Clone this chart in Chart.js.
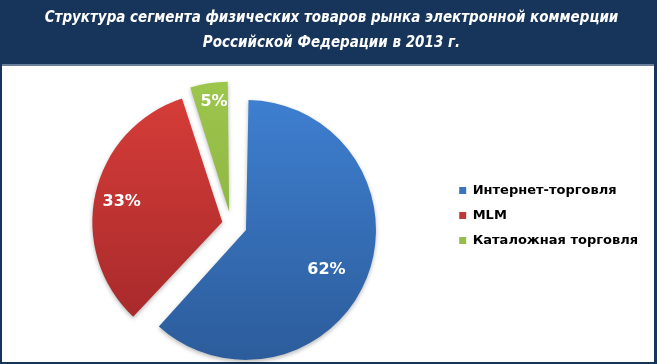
<!DOCTYPE html>
<html>
<head>
<meta charset="utf-8">
<script src="https://cdn.jsdelivr.net/npm/chart.js@4.4.0/dist/chart.umd.min.js"></script>
<style>
  html, body { margin: 0; padding: 0; background: #fff; }
  #wrap { position: relative; width: 657px; height: 364px; }
</style>
</head>
<body>
<div id="wrap"><canvas id="segments"></canvas></div>
<script>
const titleLines = ['Структура сегмента физических товаров рынка электронной коммерции', 'Российской Федерации в 2013 г.'];
const categories = ['Интернет-торговля', 'MLM', 'Каталожная торговля'];
const shares = [62, 33, 5];

const legendColors = ['#3b74bd', '#c0393a', '#94bd4b'];
const topColors = ['#3e7fd0', '#d63d38', '#9dc64d'];
const bottomColors = ['#2c5c9b', '#a2272a', '#82a93a'];
const sliceOffsets = [64, 36, 50];
const labelDistance = [0.69, 0.79, 0.85];
const labelTurn = [0.08, -0.02, 0.02];
const pieRadius = 130;

// pie center is middle of chart area, so gradient is placed from it
function sliceGradient(context) {
    const chart = context.chart;
    const area = chart.chartArea;
    const i = context.dataIndex;
    if (!area || i === undefined) return legendColors[i || 0];
    const cy = (area.top + area.bottom) / 2;
    const g = chart.ctx.createLinearGradient(0, cy - pieRadius, 0, cy + pieRadius);
    g.addColorStop(0, topColors[i]);
    g.addColorStop(1, bottomColors[i]);
    return g;
}

const frame = {
    id: 'frame',
    beforeDraw(chart) {
        const c = chart.ctx;
        c.save();
        c.fillStyle = '#17345a';
        c.fillRect(0, 0, chart.width, chart.height);
        c.fillStyle = '#6a7f9b';
        c.fillRect(2, 64, chart.width - 5, 2);
        c.fillStyle = '#ffffff';
        c.fillRect(2, 66, chart.width - 5, chart.height - 68);
        c.restore();
    }
};

// keep every exploded slice the same size (arc adds offset to radius)
const evenRadius = {
    id: 'evenRadius',
    afterDatasetUpdate(chart, args) {
        const meta = chart.getDatasetMeta(args.index);
        meta.data.forEach((arc, i) => {
            const off = sliceOffsets[i] / 4;
            const fix = 1 - Math.sin(Math.min(Math.PI, arc.circumference));
            arc.outerRadius = pieRadius - off * fix;
        });
    },
    beforeDatasetsDraw(chart) {
        const c = chart.ctx;
        c.save();
        c.shadowColor = 'rgba(0, 0, 0, 0.28)';
        c.shadowBlur = 4;
        c.shadowOffsetY = 2;
    },
    afterDatasetsDraw(chart) {
        chart.ctx.restore();
    }
};

const pctLabels = {
    id: 'pctLabels',
    afterDatasetsDraw(chart) {
        const c = chart.ctx;
        const meta = chart.getDatasetMeta(0);
        const total = shares.reduce((a, b) => a + b, 0);
        c.save();
        c.fillStyle = '#ffffff';
        c.font = 'bold 16px "DejaVu Sans", sans-serif';
        c.textAlign = 'center';
        c.textBaseline = 'middle';
        meta.data.forEach((arc, i) => {
            const mid = (arc.startAngle + arc.endAngle) / 2;
            const shift = sliceOffsets[i] / 4;
            const cx = arc.x + Math.cos(mid) * shift;
            const cy = arc.y + Math.sin(mid) * shift;
            const a = mid + labelTurn[i];
            const d = pieRadius * labelDistance[i];
            c.fillText(Math.round(shares[i] * 100 / total) + '%', cx + Math.cos(a) * d, cy + Math.sin(a) * d);
        });
        c.restore();
    }
};

const ctx = document.getElementById('segments').getContext('2d');

const segmentsChart = new Chart(ctx, {
    type: 'pie',
    plugins: [frame, evenRadius, pctLabels],
    data: {
        labels: categories,
        datasets: [{
            data: shares,
            backgroundColor: sliceGradient,
            borderWidth: 0,
            offset: sliceOffsets,
            radius: pieRadius,
            clip: false
        }]
    },
    options: {
        responsive: true,
        maintainAspectRatio: false,
        animation: false,
        layout: {
            padding: { left: 15, right: 9, top: 0, bottom: 2 }
        },
        plugins: {
            tooltip: { enabled: false },
            title: {
                display: true,
                text: titleLines,
                color: '#ffffff',
                font: {
                    family: '"Liberation Sans Narrow", "DejaVu Sans Condensed", sans-serif',
                    size: 15,
                    weight: 'bold',
                    style: 'italic',
                    lineHeight: '25px'
                },
                padding: { top: 6, bottom: 30 }
            },
            legend: {
                position: 'right',
                fullSize: false,
                align: 'start',
                // empty title only pushes the rows down to their place
                title: {
                    display: true,
                    text: '',
                    font: { size: 12, lineHeight: '12px' },
                    padding: { top: 74, bottom: 0 }
                },
                labels: {
                    color: '#000000',
                    boxWidth: 7,
                    boxHeight: 7,
                    padding: 12,
                    font: { family: '"DejaVu Sans", sans-serif', size: 13, weight: 'bold' },
                    generateLabels: () => categories.map((name, i) => ({
                        text: name,
                        fillStyle: legendColors[i],
                        strokeStyle: legendColors[i],
                        fontColor: '#000000',
                        lineWidth: 0,
                        hidden: false,
                        index: i
                    }))
                }
            }
        }
    }
});
</script>
</body>
</html>
